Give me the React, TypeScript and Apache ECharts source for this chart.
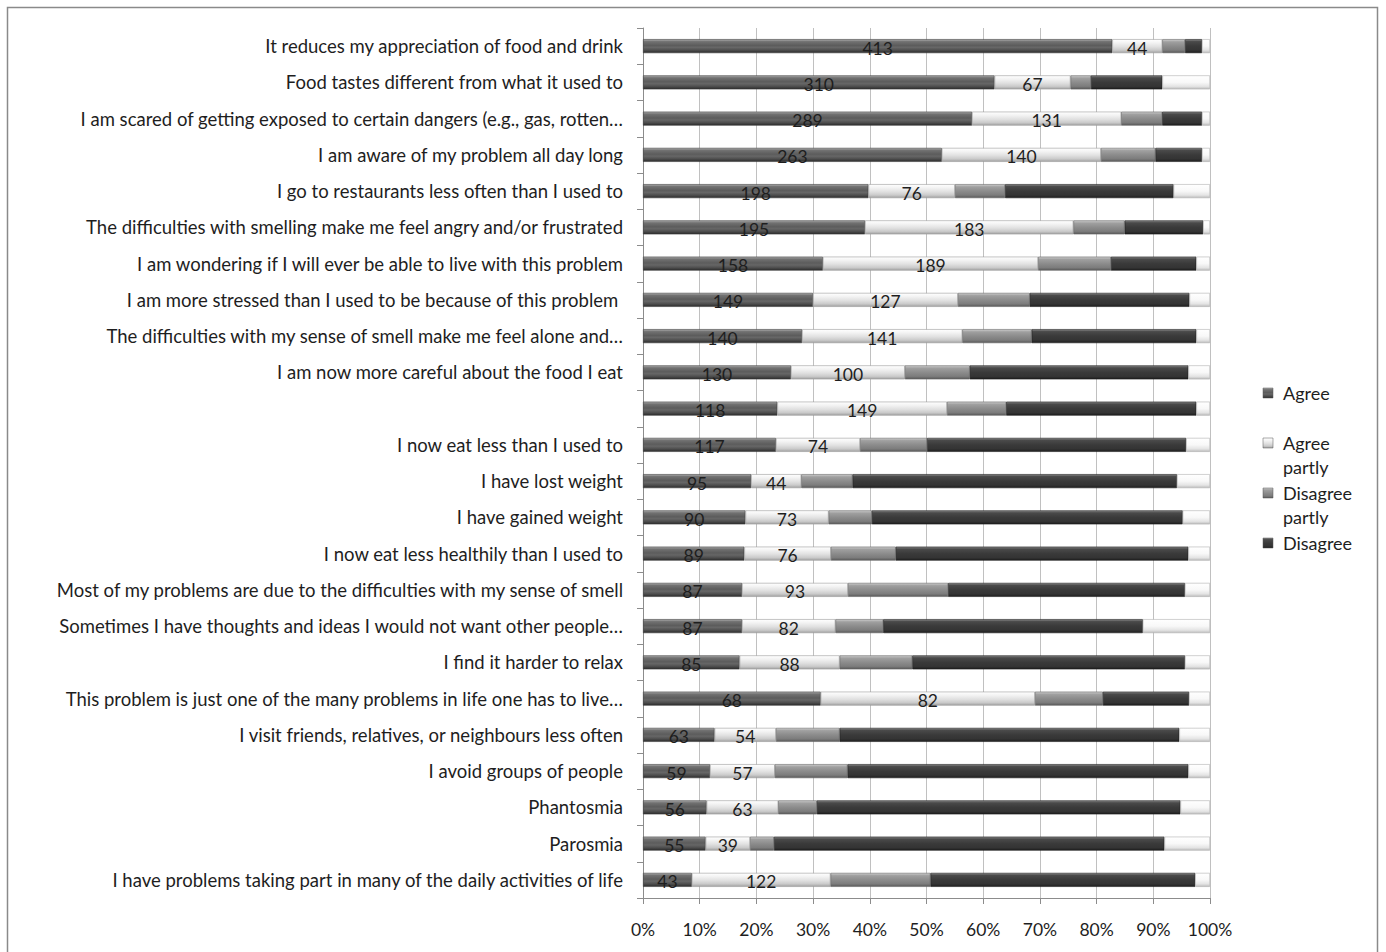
import React, { useEffect, useRef } from "react";
import * as echarts from "echarts";

const categories = [
  "It reduces my appreciation of food and drink",
  "Food tastes different from what it used to",
  "I am scared of getting exposed to certain dangers (e.g., gas, rotten…",
  "I am aware of my problem all day long",
  "I go to restaurants less often than I used to",
  "The difficulties with smelling make me feel angry and/or frustrated",
  "I am wondering if I will ever be able to live with this problem",
  "I am more stressed than I used to be because of this problem ",
  "The difficulties with my sense of smell make me feel alone and…",
  "I am now more careful about the food I eat",
  "",
  "I now eat less than I used to",
  "I have lost weight",
  "I have gained weight",
  "I now eat less healthily than I used to",
  "Most of my problems are due to the difficulties with my sense of smell",
  "Sometimes I have thoughts and ideas I would not want other people…",
  "I find it harder to relax",
  "This problem is just one of the many problems in life one has to live…",
  "I visit friends, relatives, or neighbours less often",
  "I avoid groups of people",
  "Phantosmia",
  "Parosmia",
  "I have problems taking part in many of the daily activities of life",
];

const agree = [413, 310, 289, 263, 198, 195, 158, 149, 140, 130, 118, 117, 95, 90, 89, 87, 87, 85, 68, 63, 59, 56, 55, 43];
const agreePartly = [44, 67, 131, 140, 76, 183, 189, 127, 141, 100, 149, 74, 44, 73, 76, 93, 82, 88, 82, 54, 57, 63, 39, 122];
const disagreePartly = [20, 18, 36, 48, 44, 45, 64, 63, 61, 57, 52, 59, 45, 38, 57, 88, 42, 64, 26, 56, 64, 34, 21, 88];
const disagree = [15, 63, 35, 41, 148, 69, 75, 140, 145, 192, 167, 228, 285, 273, 257, 208, 228, 240, 33, 299, 300, 320, 343, 233];
const noAnswer = [7, 42, 7, 7, 32, 6, 12, 18, 12, 19, 12, 21, 29, 24, 19, 22, 59, 22, 8, 27, 19, 26, 40, 13];

const seriesNames = ["Agree", "Agree partly", "Disagree partly", "Disagree", ""];
const legendLabels = ["Agree", "Agree\npartly", "Disagree\npartly", "Disagree"];
const xTicks = [0, 10, 20, 30, 40, 50, 60, 70, 80, 90, 100];

const FONT = "Lato, 'Noto Sans', sans-serif";

export default function App() {
  const ref = useRef<HTMLDivElement>(null);

  useEffect(() => {
    if (!ref.current) return;
    const chart = echarts.init(ref.current, null, { renderer: "svg" });

    const counts = [agree, agreePartly, disagreePartly, disagree, noAnswer];
    const totals = categories.map((_, i) => counts.reduce((s, arr) => s + arr[i], 0));

    const grad = (stops: [number, string][]) =>
      new echarts.graphic.LinearGradient(
        0, 0, 0, 1,
        stops.map(([offset, color]) => ({ offset, color }))
      );

    const fills = [
      grad([[0, "#b0b0b0"], [0.16, "#727272"], [0.45, "#5c5c5c"], [0.6, "#666666"], [0.8, "#4e4e4e"], [1, "#2c2c2c"]]),
      grad([[0, "#ffffff"], [0.25, "#f3f3f3"], [0.55, "#e0e0e0"], [0.8, "#cacaca"], [1, "#a0a0a0"]]),
      grad([[0, "#cfcfcf"], [0.18, "#a0a0a0"], [0.5, "#8c8c8c"], [0.8, "#7c7c7c"], [1, "#585858"]]),
      grad([[0, "#8a8a8a"], [0.16, "#4a4a4a"], [0.5, "#3a3a3a"], [0.8, "#343434"], [1, "#1e1e1e"]]),
      grad([[0, "#ffffff"], [0.5, "#f8f8f8"], [0.8, "#e4e4e4"], [1, "#bcbcbc"]]),
    ];
    const borders = ["#3c3c3c", "#9a9a9a", "#666666", "#1c1c1c", "#b0b0b0"];
    const iconFills = [fills[0], fills[1], fills[2], fills[3]];

    const series = counts.map((arr, k) => ({
      name: seriesNames[k],
      type: "bar",
      stack: "total",
      barWidth: 14,
      data: arr.map((v, i) => (v / totals[i]) * 100),
      itemStyle: { color: fills[k], borderColor: borders[k], borderWidth: 0.6 },
      label: {
        show: k < 2,
        position: "inside",
        formatter: (p: any) => String(counts[k][p.dataIndex]),
        color: "#1e1e1e",
        fontSize: 17.5,
        fontFamily: FONT,
        offset: [0, 2],
      },
      emphasis: { disabled: true },
    }));

    const legendGraphics: any[] = [];
    legendLabels.forEach((label, j) => {
      const yc = 393 + (j === 0 ? 0 : j + 1) * 50 - (j === 0 ? 0 : 50);
      legendGraphics.push({
        type: "rect",
        shape: { x: 1263, y: yc - 5, width: 10, height: 10 },
        style: { fill: iconFills[j], stroke: "#555", lineWidth: 0.5 },
      });
      legendGraphics.push({
        type: "text",
        x: 1283,
        y: yc - 12.5,
        style: {
          text: label,
          fontSize: 18,
          fontFamily: FONT,
          fill: "#1e1e1e",
          lineHeight: 24.5,
          verticalAlign: "top",
          align: "left",
        },
      });
    });

    chart.setOption({
      animation: false,
      backgroundColor: "#ffffff",
      grid: { left: 643, top: 28, width: 567, height: 870, containLabel: false },
      xAxis: {
        type: "value",
        min: xTicks[0],
        max: xTicks[xTicks.length - 1],
        interval: xTicks[1] - xTicks[0],
        axisLine: { show: true, lineStyle: { color: "#8c8c8c", width: 1 } },
        axisTick: { show: true, length: 6, lineStyle: { color: "#8c8c8c" } },
        axisLabel: {
          formatter: "{value}%",
          fontSize: 17.5,
          fontFamily: FONT,
          color: "#1e1e1e",
          margin: 22,
        },
        splitLine: { show: true, lineStyle: { color: "#c0c0c0", width: 1 } },
      },
      yAxis: {
        type: "category",
        data: categories,
        inverse: true,
        axisLine: { show: true, lineStyle: { color: "#8c8c8c", width: 1 } },
        axisTick: { show: true, length: 6, lineStyle: { color: "#8c8c8c" } },
        axisLabel: {
          fontSize: 18.5,
          fontFamily: FONT,
          color: "#1e1e1e",
          margin: 20,
          interval: 0,
        },
        splitLine: { show: false },
      },
      legend: { show: false },
      series,
      graphic: [
        {
          type: "rect",
          shape: { x: 7.5, y: 7.5, width: 1370, height: 980 },
          style: { fill: "none", stroke: "#8a8a8a", lineWidth: 1.5 },
          silent: true,
        },
        ...legendGraphics,
      ],
    });

    return () => chart.dispose();
  }, []);

  return (
    <div
      ref={ref}
      style={{ position: "absolute", left: 0, top: 0, width: 1386, height: 952 }}
    />
  );
}
